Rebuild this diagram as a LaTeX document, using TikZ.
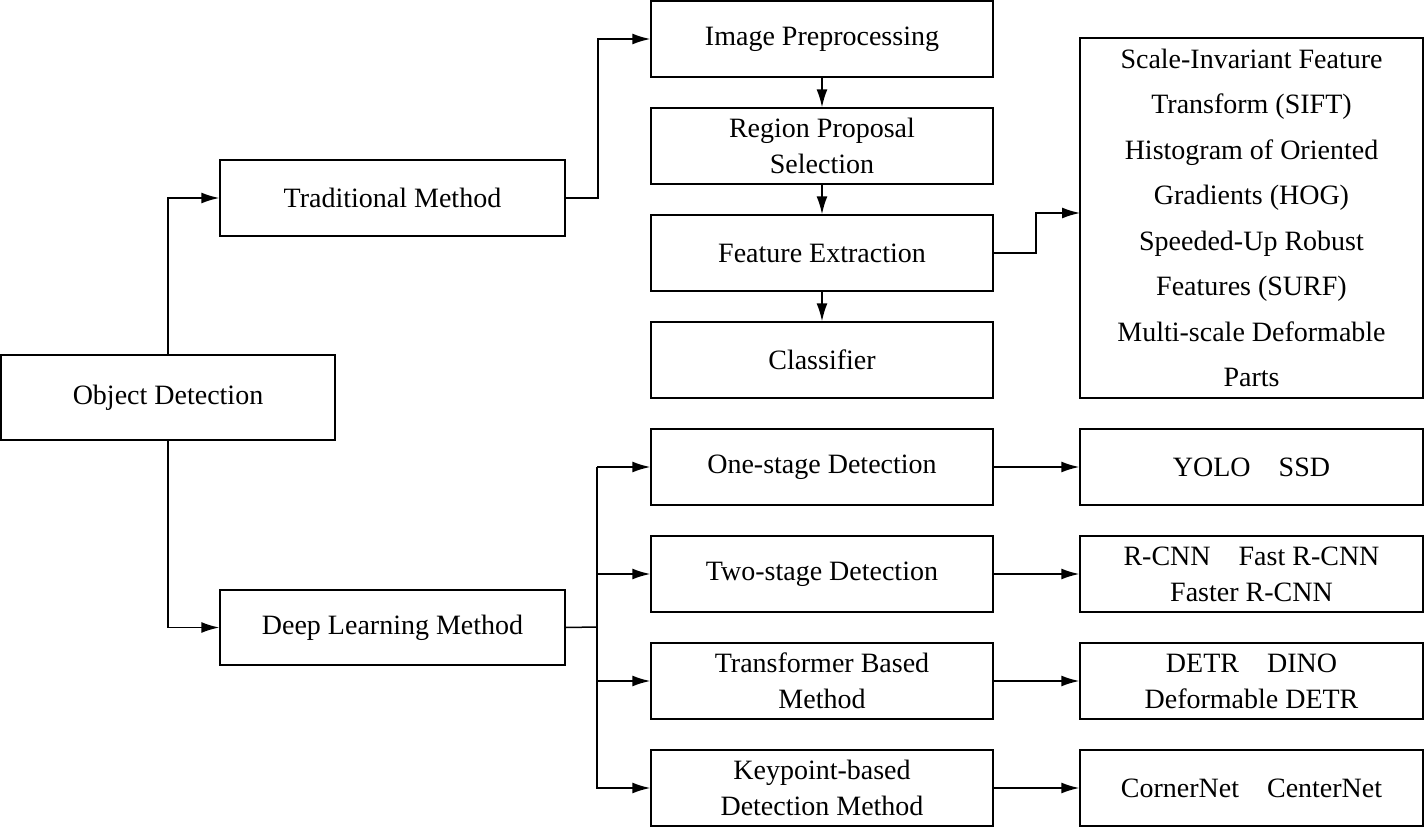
\documentclass[tikz,border=0pt]{standalone}
\usepackage{fontspec}
\setmainfont{Liberation Serif}
\usetikzlibrary{arrows.meta}
\begin{document}
\begin{tikzpicture}[x=1pt,y=-1pt,
  box/.style={draw,line width=1.5pt,align=center,font=\fontsize{28}{36}\selectfont,inner sep=0pt},
  arr/.style={line width=1.5pt,-{Latex[length=18pt,width=11pt]}},
  ln/.style={line width=1.5pt}]
\useasboundingbox (0,0) rectangle (1425,827);
\newcommand{\bx}[6]{\node[box,minimum width=#4-#2,minimum height=#5-#3] (#1) at ({(#2+#4)/2},{(#3+#5)/2}) {#6};}
\bx{od}{1}{355}{335}{440}{Object Detection}
\bx{tm}{220}{160}{565}{236}{Traditional Method}
\bx{dl}{220}{590}{565}{665}{Deep Learning Method}
\bx{ip}{651}{1}{993}{77}{Image Preprocessing}
\bx{rp}{651}{108}{993}{184}{Region Proposal\\Selection}
\bx{fe}{651}{215}{993}{291}{Feature Extraction}
\bx{cl}{651}{322}{993}{398}{Classifier}
\node[box,font=\fontsize{28}{45.5}\selectfont,minimum width=343,minimum height=360] (ft) at (1251.5,218) {Scale-Invariant Feature\\Transform (SIFT)\\Histogram of Oriented\\Gradients (HOG)\\Speeded-Up Robust\\Features (SURF)\\Multi-scale Deformable\\Parts};
\bx{os}{651}{429}{993}{505}{One-stage Detection}
\bx{ts}{651}{536}{993}{612}{Two-stage Detection}
\bx{tb}{651}{643}{993}{719}{Transformer Based\\Method}
\bx{kp}{651}{750}{993}{826}{Keypoint-based\\Detection Method}
\bx{r1}{1080}{429}{1423}{505}{YOLO\quad SSD}
\bx{r2}{1080}{536}{1423}{612}{R-CNN\quad Fast R-CNN\\Faster R-CNN}
\bx{r3}{1080}{643}{1423}{719}{DETR\quad DINO\\Deformable DETR}
\bx{r4}{1080}{750}{1423}{826}{CornerNet\quad CenterNet}
\draw[arr] (od.north) |- (tm.west);
\draw[arr] (od.south) |- (dl.west);
\draw[arr] (tm.east) -- ++(32,0) |- (ip.west);
\draw[arr] (ip) -- (rp);
\draw[arr] (rp) -- (fe);
\draw[arr] (fe) -- (cl);
\draw[arr] (fe.east) -- ++(42,0) |- (1080,213);
\coordinate (j) at (597,627);
\draw[ln] (dl.east) -- (j);
\draw[ln] (597,467) -- (597,789);
\foreach \t in {os,ts,tb,kp}{\draw[arr] (597,0 |- \t.west) -- (\t.west);}
\draw[arr] (os) -- (r1);
\draw[arr] (ts) -- (r2);
\draw[arr] (tb) -- (r3);
\draw[arr] (kp) -- (r4);
\end{tikzpicture}
\end{document}
